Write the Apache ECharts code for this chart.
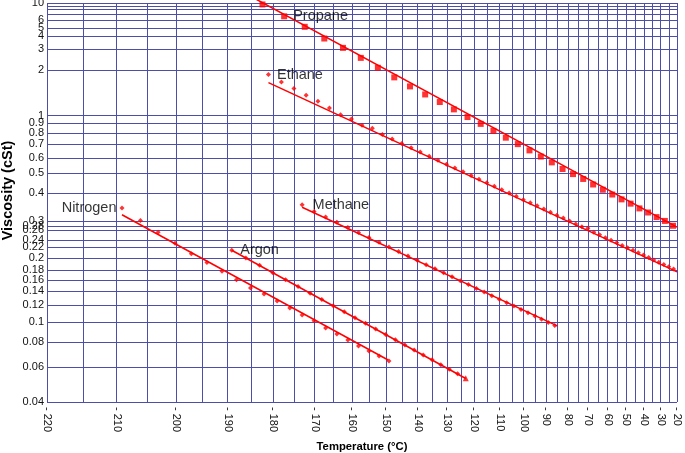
<!DOCTYPE html>
<html><head><meta charset="utf-8">
<script src="https://cdn.jsdelivr.net/npm/echarts@6/dist/echarts.min.js"></script>
<style>html,body{margin:0;padding:0;background:#fff}#chart{width:685px;height:453px}</style>
</head><body><div id="chart"></div>
<script>
// Viscosity chart-paper scale: [cSt, relative height on the paper (0.04 line = 0, 10 line = 1)]
const viscosityScale = [
  [0.04,0],[0.06,0.0878],[0.08,0.1506],[0.1,0.2008],[0.12,0.2434],[0.14,0.2785],[0.16,0.3049],
  [0.18,0.3312],[0.2,0.3614],[0.22,0.3890],[0.24,0.4053],[0.26,0.4304],[0.28,0.4417],[0.3,0.4530],
  [0.4,0.5237],[0.5,0.5739],[0.6,0.6115],[0.7,0.6457],[0.8,0.6743],[0.9,0.6994],[1,0.7177],
  [2,0.8319],[3,0.8846],[4,0.9167],[5,0.9378],[6,0.9573],[7,0.9724],[8,0.9837],[9,0.9925],[10,1]
];
const viscosityLabels = [10,8,6,5,4,3,2,1,0.9,0.8,0.7,0.6,0.5,0.4,0.3,0.28,0.26,0.24,0.22,0.2,0.18,0.16,0.14,0.12,0.1,0.08,0.06,0.04];
const temperatureGrid = [-220,-215,-210,-205,-200,-195,-190,-185,-180,-175,-170,-165,-160,-155,-150,-145,-140,-135,-130,-125,-120,-115,-110,-105,-100,-95,-90,-85,-80,-75,-70,-65,-60,-55,-50,-45,-40,-35,-30,-25,-20];
const temperatureLabels = [-220,-210,-200,-190,-180,-170,-160,-150,-140,-130,-120,-110,-100,-90,-80,-70,-60,-50,-40,-30,-20];

// Propane
const propaneT = [-182.5,-177.5,-172.5,-167.5,-162.5,-157.5,-152.5,-147.5,-142.5,-137.5,-132.5,-127.5,-122.5,-117.5,-112.5,-107.5,-102.5,-97.5,-92.5,-87.5,-82.5,-77.5,-72.5,-67.5,-62.5,-57.5,-52.5,-47.5,-42.5,-37.5,-32.5,-27.5,-22.5];
const propaneV = [9.5,6.6,5.12,3.80,3.08,2.53,2.09,1.79,1.56,1.38,1.23,1.10,0.98,0.89,0.82,0.757,0.702,0.654,0.610,0.569,0.525,0.494,0.468,0.440,0.415,0.394,0.375,0.359,0.342,0.328,0.313,0.301,0.280];
const propaneFitT = [-183.8,-20];
const propaneFitV = [11.3,0.274];
// Ethane
const ethaneT = [-181.15,-178.15,-175.15,-172.15,-169.15,-166.15,-163.15,-160.15,-157.15,-154.15,-151.15,-148.15,-145.15,-142.15,-139.15,-136.15,-133.15,-130.15,-127.15,-124.15,-121.15,-118.15,-115.15,-112.15,-109.15,-106.15,-103.15,-100.15,-97.15,-94.15,-91.15,-88.15,-85.15,-82.15,-79.15,-76.15,-73.15,-70.15,-67.15,-64.15,-61.15,-58.15,-55.15,-52.15,-49.15,-46.15,-43.15,-40.15,-37.15,-34.15,-31.15,-28.15,-25.15,-22.15];
const ethaneV = [1.868,1.671,1.509,1.362,1.243,1.125,1.015,0.953,0.877,0.845,0.785,0.745,0.708,0.674,0.642,0.612,0.584,0.557,0.531,0.507,0.486,0.467,0.449,0.432,0.415,0.400,0.387,0.374,0.362,0.351,0.340,0.329,0.319,0.310,0.301,0.288,0.276,0.269,0.256,0.251,0.245,0.240,0.232,0.224,0.218,0.2134,0.209,0.2048,0.2004,0.1963,0.1924,0.1886,0.1848,0.1813];
const ethaneFitT = [-181.15,-20];
const ethaneFitV = [1.653,0.176];
// Methane
const methaneT = [-173.15,-170.15,-167.15,-164.15,-161.15,-158.15,-155.15,-152.15,-149.15,-146.15,-143.15,-140.15,-137.15,-134.15,-131.15,-128.15,-125.15,-122.15,-119.15,-116.15,-113.15,-110.15,-107.15,-104.15,-101.15,-98.15,-95.15,-92.15,-89.15,-86.15];
const methaneV = [0.3549,0.3315,0.3134,0.2954,0.2723,0.2555,0.2455,0.2339,0.2198,0.2113,0.2033,0.1957,0.1884,0.1818,0.1740,0.1664,0.1591,0.1517,0.1445,0.1381,0.1328,0.1276,0.1230,0.1185,0.1142,0.1103,0.1064,0.1028,0.0994,0.0961];
const methaneFitT = [-173.15,-85];
const methaneFitV = [0.346,0.0956];
// Nitrogen
const nitrogenT = [-209.15,-206.15,-203.15,-200.15,-197.15,-194.15,-191.15,-188.15,-185.15,-182.15,-179.15,-176.15,-173.15,-170.15,-167.15,-164.15,-161.15,-158.15,-155.15,-152.15,-149.15];
const nitrogenV = [0.343,0.302,0.256,0.231,0.207,0.192,0.177,0.161,0.145,0.1354,0.1254,0.1162,0.1078,0.1011,0.0935,0.0874,0.0818,0.0764,0.0721,0.0681,0.0643];
const nitrogenFitT = [-209.15,-149.4];
const nitrogenFitV = [0.3206,0.0650];
// Argon
const argonT = [-189.15,-186.15,-183.15,-180.15,-177.15,-174.15,-171.15,-168.15,-165.15,-162.15,-159.15,-156.15,-153.15,-150.15,-147.15,-144.15,-141.15,-138.15,-135.15,-132.15,-129.15,-126.15,-123.15];
const argonV = [0.2135,0.1997,0.1873,0.1742,0.1611,0.1479,0.1365,0.1272,0.1189,0.1114,0.1046,0.0985,0.0924,0.0869,0.0819,0.0772,0.0729,0.0688,0.0651,0.0616,0.0584,0.0554,0.0526];
const argonFitT = [-189.15,-123.15];
const argonFitV = [0.2135,0.0525];

// ---- scale helpers ----
function paper(v) {
  const s = viscosityScale, lv = Math.log10(v);
  let i = 0;
  if (v >= s[s.length - 1][0]) i = s.length - 2;
  else if (v > s[0][0]) { while (v > s[i + 1][0]) i++; }
  const a = Math.log10(s[i][0]), b = Math.log10(s[i + 1][0]);
  return s[i][1] + (lv - a) / (b - a) * (s[i + 1][1] - s[i][1]);
}
function tempX(t) { return Math.log10(t + 273.15); }
function pts(T, V) { return T.map((t, i) => [tempX(t), paper(V[i])]); }

const RED = '#ff0000';
const FONT = 'Liberation Sans, Arial, sans-serif';
const labelFont = { fontFamily: FONT, fontSize: 14.5, color: '#000' };
function scatter(name, T, V, symbol, size, labelIdx, labelPos, labelDist) {
  const d = pts(T, V).map((p, i) => {
    const item = { value: p };
    if (i === labelIdx) item.label = Object.assign({ show: true, formatter: name, position: labelPos, distance: labelDist }, labelFont);
    return item;
  });
  return { name, type: 'scatter', data: d, symbol, symbolSize: size, itemStyle: { color: RED }, z: 4 };
}
function fit(name, T, V) {
  return { name: name + ' fit', type: 'line', data: pts(T, V), symbol: 'none', clip: false,
           lineStyle: { color: RED, width: 1.5 }, z: 3 };
}

const argonSeries = scatter('Argon', argonT, argonV, 'diamond', 5, 0, 'right', 6);
argonSeries.data[argonSeries.data.length - 1].symbol = 'triangle';
argonSeries.data[argonSeries.data.length - 1].symbolSize = 6;

const gridColor = '#4d4daa';
const option = {
  animation: false,
  backgroundColor: '#fff',
  grid: { left: 47, right: 8, top: 3, bottom: 51, containLabel: false, outerBoundsMode: 'none' },
  xAxis: {
    type: 'value', min: tempX(-220), max: tempX(-20),
    name: 'Temperature (°C)', nameLocation: 'middle', nameGap: 39,
    nameTextStyle: { fontFamily: FONT, fontSize: 11.3, fontWeight: 'bold', color: '#000' },
    axisLine: { show: false },
    axisTick: { show: false, customValues: temperatureGrid.map(tempX) },
    axisLabel: { customValues: temperatureLabels.map(tempX), rotate: -90, margin: 5, hideOverlap: false,
      fontFamily: FONT, fontSize: 11, color: '#111',
      formatter: v => { const t = Math.round(Math.pow(10, v) - 273.15); return (t < 0 ? '- ' : '') + Math.abs(t); } },
    splitLine: { show: true, lineStyle: { color: gridColor, width: 1 } }
  },
  yAxis: {
    type: 'value', min: 0, max: 1,
    name: 'Viscosity (cSt)', nameLocation: 'middle', nameGap: 32, nameMoveOverlap: false,
    nameTextStyle: { fontFamily: FONT, fontSize: 14.5, fontWeight: 'bold', color: '#000', padding: [0, 0, 0, 24] },
    axisLine: { show: false },
    axisTick: { show: false, customValues: viscosityScale.map(s => s[1]) },
    axisLabel: { customValues: viscosityLabels.map(paper), margin: 3, hideOverlap: false,
      showMinLabel: true, showMaxLabel: true,
      fontFamily: FONT, fontSize: 11, color: '#111',
      formatter: h => { let best = viscosityLabels[0], bd = 9; viscosityLabels.forEach(v => { const d = Math.abs(paper(v) - h); if (d < bd) { bd = d; best = v; } }); return String(best); } },
    splitLine: { show: true, lineStyle: { color: gridColor, width: 1 } }
  },
  series: [
    fit('Propane', propaneFitT, propaneFitV),
    scatter('Propane', propaneT, propaneV, 'rect', 6, 1, 'right', 6),
    fit('Ethane', ethaneFitT, ethaneFitV),
    scatter('Ethane', ethaneT, ethaneV, 'diamond', 5, 0, 'right', 6),
    fit('Methane', methaneFitT, methaneFitV),
    scatter('Methane', methaneT, methaneV, 'diamond', 5, 0, 'right', 8),
    fit('Nitrogen', nitrogenFitT, nitrogenFitV),
    scatter('Nitrogen', nitrogenT, nitrogenV, 'diamond', 5, 0, 'left', 3),
    fit('Argon', argonFitT, argonFitV),
    argonSeries
  ]
};
const chart = echarts.init(document.getElementById('chart'), null, { renderer: 'canvas' });
chart.setOption(option);
</script></body></html>
